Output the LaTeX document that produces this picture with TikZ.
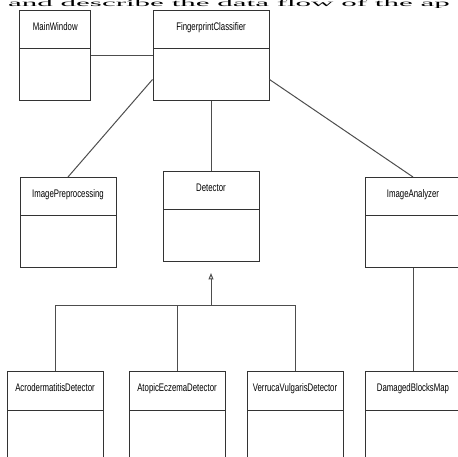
\documentclass[tikz,border=0pt]{standalone}
\usepackage{fontspec}
\setmainfont{Liberation Serif}
\newfontfamily\umlfont[FakeStretch=0.71]{Liberation Sans}
\usetikzlibrary{arrows.meta}
\definecolor{boxgray}{HTML}{333333}
\definecolor{linegray}{HTML}{4D4D4D}

\begin{document}
\begin{tikzpicture}[x=1pt,y=-1pt,
        cls/.style={draw=boxgray, line width=1pt, anchor=north, minimum width=96pt,
            inner xsep=0pt, inner ysep=0pt, text height=20pt, text depth=70pt,
            font=\umlfont\fontsize{11}{13}\selectfont,
            path picture={\draw[boxgray, line width=1pt]
                ([yshift=-38.5pt]path picture bounding box.north west) --
                ([yshift=-38.5pt]path picture bounding box.north east);}},
        conn/.style={draw=linegray, line width=1pt}]
                \useasboundingbox (0,0) rectangle (458,457);
                \clip (0,0) rectangle (458,457);
                \node[anchor=base west, inner sep=0pt, font=\fontsize{31}{36}\selectfont] (para) at (8,6.8) {\scalebox{1}[0.3]{and describe the data flow of the ap}};
                \node[cls, minimum width=70.7pt] (mw) at (55.3,10) {MainWindow};
                \node[cls, minimum width=116pt] (fp) at (211,10) {FingerprintClassifier};
                \node[cls] (ip) at (68,177) {ImagePreprocessing};
                \node[cls] (det) at (211,171) {Detector};
                \node[cls] (ia) at (413,177) {ImageAnalyzer};
                \node[cls] (acro) at (55,371) {AcrodermatitisDetector};
                \node[cls] (atop) at (177,371) {AtopicEczemaDetector};
                \node[cls] (verr) at (295,371) {VerrucaVulgarisDetector};
                \node[cls] (dbm) at (413,371) {DamagedBlocksMap};
                \draw[conn] (mw.east) -- (fp.west);
                \draw[conn] ([yshift=-24pt]fp.west) -- (ip.north);
                \draw[conn] ([yshift=-24pt]fp.east) -- (ia.north);
                \draw[conn] (fp.south) -- (det.north);
                \draw[conn] (ia.south) -- (dbm.north);
                \coordinate (bar) at (211,305);
                \coordinate (gen) at ([yshift=-11pt]det.south);
                \draw[conn, -{Triangle[open, length=6.5pt, width=5pt]}] (bar) -- (gen);
                \foreach \c in {acro,atop,verr}
                {
                    \draw[conn] (\c.north) |- (bar);
                }
            \end{tikzpicture}
\end{document}
